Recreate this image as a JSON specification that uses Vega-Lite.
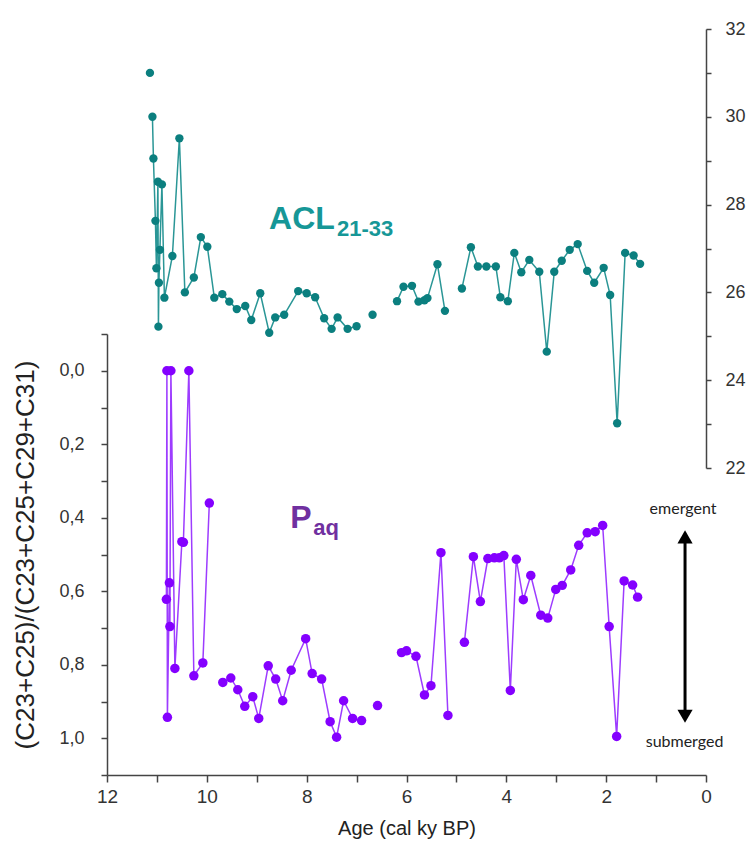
{
  "$schema": "https://vega.github.io/schema/vega-lite/v6.json",
  "width": 599,
  "height": 746,
  "autosize": "none",
  "padding": {"left": 107, "top": 29, "right": 41, "bottom": 77},
  "background": "white",
  "config": {
    "view": {"stroke": null},
    "axis": {"grid": false, "labelFont": "Liberation Sans", "titleFont": "Liberation Sans", "labelColor": "#333333", "titleColor": "#222222", "domainColor": "#444444", "tickColor": "#444444", "domainWidth": 1.5, "tickWidth": 1.5, "titleFontWeight": "normal"}
  },
  "datasets": {
    "acl": [
      {"age": 11.14, "acl": 31.0, "seg": 0},
      {"age": 11.09, "acl": 30.0, "seg": 1},
      {"age": 11.07, "acl": 29.05, "seg": 1},
      {"age": 11.03, "acl": 27.63, "seg": 1},
      {"age": 11.01, "acl": 26.55, "seg": 1},
      {"age": 10.98, "acl": 28.52, "seg": 1},
      {"age": 10.97, "acl": 25.22, "seg": 1},
      {"age": 10.96, "acl": 26.22, "seg": 1},
      {"age": 10.94, "acl": 26.97, "seg": 1},
      {"age": 10.9, "acl": 28.46, "seg": 1},
      {"age": 10.85, "acl": 25.88, "seg": 1},
      {"age": 10.69, "acl": 26.83, "seg": 1},
      {"age": 10.55, "acl": 29.51, "seg": 1},
      {"age": 10.44, "acl": 26.0, "seg": 1},
      {"age": 10.26, "acl": 26.34, "seg": 1},
      {"age": 10.12, "acl": 27.26, "seg": 1},
      {"age": 9.99, "acl": 27.04, "seg": 1},
      {"age": 9.85, "acl": 25.88, "seg": 1},
      {"age": 9.69, "acl": 25.96, "seg": 1},
      {"age": 9.55, "acl": 25.79, "seg": 1},
      {"age": 9.4, "acl": 25.62, "seg": 1},
      {"age": 9.23, "acl": 25.69, "seg": 1},
      {"age": 9.11, "acl": 25.37, "seg": 1},
      {"age": 8.93, "acl": 25.98, "seg": 1},
      {"age": 8.75, "acl": 25.08, "seg": 1},
      {"age": 8.63, "acl": 25.43, "seg": 1},
      {"age": 8.45, "acl": 25.49, "seg": 1},
      {"age": 8.17, "acl": 26.03, "seg": 1},
      {"age": 8.0, "acl": 25.98, "seg": 1},
      {"age": 7.83, "acl": 25.89, "seg": 1},
      {"age": 7.65, "acl": 25.41, "seg": 1},
      {"age": 7.5, "acl": 25.17, "seg": 1},
      {"age": 7.38, "acl": 25.43, "seg": 1},
      {"age": 7.18, "acl": 25.17, "seg": 1},
      {"age": 7.0, "acl": 25.23, "seg": 1},
      {"age": 6.68, "acl": 25.49, "seg": 2},
      {"age": 6.19, "acl": 25.8, "seg": 3},
      {"age": 6.06, "acl": 26.13, "seg": 3},
      {"age": 5.89, "acl": 26.15, "seg": 3},
      {"age": 5.76, "acl": 25.79, "seg": 3},
      {"age": 5.64, "acl": 25.82, "seg": 3},
      {"age": 5.58, "acl": 25.87, "seg": 3},
      {"age": 5.38, "acl": 26.64, "seg": 3},
      {"age": 5.23, "acl": 25.58, "seg": 3},
      {"age": 4.89, "acl": 26.09, "seg": 4},
      {"age": 4.71, "acl": 27.03, "seg": 4},
      {"age": 4.57, "acl": 26.59, "seg": 4},
      {"age": 4.4, "acl": 26.59, "seg": 4},
      {"age": 4.21, "acl": 26.59, "seg": 4},
      {"age": 4.12, "acl": 25.89, "seg": 4},
      {"age": 3.97, "acl": 25.8, "seg": 4},
      {"age": 3.84, "acl": 26.9, "seg": 4},
      {"age": 3.7, "acl": 26.46, "seg": 4},
      {"age": 3.54, "acl": 26.74, "seg": 4},
      {"age": 3.34, "acl": 26.47, "seg": 4},
      {"age": 3.19, "acl": 24.65, "seg": 4},
      {"age": 3.04, "acl": 26.47, "seg": 4},
      {"age": 2.89, "acl": 26.72, "seg": 4},
      {"age": 2.73, "acl": 26.97, "seg": 4},
      {"age": 2.57, "acl": 27.1, "seg": 4},
      {"age": 2.38, "acl": 26.49, "seg": 4},
      {"age": 2.24, "acl": 26.22, "seg": 4},
      {"age": 2.05, "acl": 26.56, "seg": 4},
      {"age": 1.92, "acl": 25.94, "seg": 4},
      {"age": 1.78, "acl": 23.02, "seg": 4},
      {"age": 1.62, "acl": 26.9, "seg": 4},
      {"age": 1.45, "acl": 26.84, "seg": 4},
      {"age": 1.32, "acl": 26.65, "seg": 4}
    ],
    "paq": [
      {"age": 10.81, "paq": 0.622, "seg": 0},
      {"age": 10.8, "paq": 0.0, "seg": 0},
      {"age": 10.79, "paq": 0.943, "seg": 0},
      {"age": 10.75, "paq": 0.577, "seg": 0},
      {"age": 10.74, "paq": 0.696, "seg": 0},
      {"age": 10.72, "paq": 0.0, "seg": 0},
      {"age": 10.64, "paq": 0.81, "seg": 0},
      {"age": 10.5, "paq": 0.465, "seg": 0},
      {"age": 10.47, "paq": 0.467, "seg": 0},
      {"age": 10.36, "paq": 0.0, "seg": 0},
      {"age": 10.26, "paq": 0.83, "seg": 0},
      {"age": 10.08, "paq": 0.795, "seg": 0},
      {"age": 9.95, "paq": 0.36, "seg": 0},
      {"age": 9.68, "paq": 0.848, "seg": 1},
      {"age": 9.52, "paq": 0.836, "seg": 1},
      {"age": 9.38, "paq": 0.868, "seg": 1},
      {"age": 9.24, "paq": 0.913, "seg": 1},
      {"age": 9.08, "paq": 0.887, "seg": 1},
      {"age": 8.96, "paq": 0.946, "seg": 1},
      {"age": 8.77, "paq": 0.803, "seg": 1},
      {"age": 8.62, "paq": 0.839, "seg": 1},
      {"age": 8.48, "paq": 0.898, "seg": 1},
      {"age": 8.31, "paq": 0.815, "seg": 1},
      {"age": 8.02, "paq": 0.729, "seg": 1},
      {"age": 7.89, "paq": 0.824, "seg": 1},
      {"age": 7.7, "paq": 0.839, "seg": 1},
      {"age": 7.53, "paq": 0.955, "seg": 1},
      {"age": 7.4, "paq": 0.997, "seg": 1},
      {"age": 7.26, "paq": 0.898, "seg": 1},
      {"age": 7.08, "paq": 0.946, "seg": 1},
      {"age": 6.9, "paq": 0.952, "seg": 1},
      {"age": 6.58, "paq": 0.911, "seg": 2},
      {"age": 6.1, "paq": 0.767, "seg": 3},
      {"age": 6.0, "paq": 0.762, "seg": 3},
      {"age": 5.81, "paq": 0.777, "seg": 3},
      {"age": 5.64, "paq": 0.882, "seg": 3},
      {"age": 5.51, "paq": 0.857, "seg": 3},
      {"age": 5.31, "paq": 0.495, "seg": 3},
      {"age": 5.17, "paq": 0.938, "seg": 3},
      {"age": 4.84, "paq": 0.739, "seg": 4},
      {"age": 4.66, "paq": 0.506, "seg": 4},
      {"age": 4.52, "paq": 0.628, "seg": 4},
      {"age": 4.37, "paq": 0.511, "seg": 4},
      {"age": 4.24, "paq": 0.509, "seg": 4},
      {"age": 4.14, "paq": 0.509, "seg": 4},
      {"age": 4.05, "paq": 0.503, "seg": 4},
      {"age": 3.92, "paq": 0.87, "seg": 4},
      {"age": 3.8, "paq": 0.513, "seg": 4},
      {"age": 3.66, "paq": 0.623, "seg": 4},
      {"age": 3.51, "paq": 0.557, "seg": 4},
      {"age": 3.31, "paq": 0.665, "seg": 4},
      {"age": 3.17, "paq": 0.673, "seg": 4},
      {"age": 3.01, "paq": 0.595, "seg": 4},
      {"age": 2.88, "paq": 0.584, "seg": 4},
      {"age": 2.71, "paq": 0.542, "seg": 4},
      {"age": 2.55, "paq": 0.475, "seg": 4},
      {"age": 2.38, "paq": 0.441, "seg": 4},
      {"age": 2.22, "paq": 0.438, "seg": 4},
      {"age": 2.07, "paq": 0.421, "seg": 4},
      {"age": 1.94, "paq": 0.696, "seg": 4},
      {"age": 1.79, "paq": 0.995, "seg": 4},
      {"age": 1.64, "paq": 0.572, "seg": 4},
      {"age": 1.47, "paq": 0.583, "seg": 4},
      {"age": 1.37, "paq": 0.616, "seg": 4}
    ]
  },
  "resolve": {"scale": {"y": "independent"}, "axis": {"x": "independent", "y": "independent"}},
  "layer": [
    {
      "data": {"name": "acl"},
      "mark": {"type": "line", "color": "#2a9696", "strokeWidth": 1.5},
      "encoding": {
        "x": {"field": "age", "type": "quantitative", "scale": {"domain": [0, 12], "reverse": true, "nice": false},
          "axis": {"orient": "bottom", "title": "Age (cal ky BP)", "values": [0, 1, 2, 3, 4, 5, 6, 7, 8, 9, 10, 11, 12], "labelExpr": "datum.value % 2 == 0 ? datum.label : ''", "tickSize": 7, "labelFontSize": 19, "titleFontSize": 20, "labelPadding": 5, "titlePadding": 12, "labelFlush": false, "labelOverlap": false}},
        "y": {"field": "acl", "type": "quantitative", "scale": {"domain": [22, 32], "range": [439, 0], "nice": false, "zero": false},
          "axis": {"orient": "right", "title": null, "values": [22, 23, 24, 25, 26, 27, 28, 29, 30, 31, 32], "labelExpr": "datum.value % 2 == 0 ? datum.label : ''", "tickSize": 5, "labelFontSize": 18, "labelPadding": 14, "labelOverlap": false}},
        "detail": {"field": "seg"}
      }
    },
    {
      "data": {"name": "acl"},
      "mark": {"type": "circle", "color": "#0b7f7f", "opacity": 1, "size": 70},
      "encoding": {
        "x": {"field": "age", "type": "quantitative", "scale": {"domain": [0, 12], "reverse": true, "nice": false}, "axis": null},
        "y": {"field": "acl", "type": "quantitative", "scale": {"domain": [22, 32], "range": [439, 0], "nice": false, "zero": false}, "axis": null}
      }
    },
    {
      "data": {"name": "paq"},
      "mark": {"type": "line", "color": "#9d3cff", "strokeWidth": 1.5},
      "encoding": {
        "x": {"field": "age", "type": "quantitative", "scale": {"domain": [0, 12], "reverse": true, "nice": false}, "axis": null},
        "y": {"field": "paq", "type": "quantitative", "scale": {"domain": [-0.1, 1.1], "range": [305, 746], "nice": false, "zero": false},
          "axis": {"orient": "left", "title": "(C23+C25)/(C23+C25+C29+C31)", "values": [-0.1, 0, 0.1, 0.2, 0.3, 0.4, 0.5, 0.6, 0.7, 0.8, 0.9, 1.0, 1.1], "labelExpr": "(abs(datum.value * 10) % 2 < 0.5) ? replace(format(datum.value, '.1f'), '.', ',') : ''", "tickSize": 6, "labelFontSize": 18, "labelPadding": 17, "titleFontSize": 26, "titlePadding": 20, "labelOverlap": false}},
        "detail": {"field": "seg"}
      }
    },
    {
      "data": {"name": "paq"},
      "mark": {"type": "circle", "color": "#8400ff", "opacity": 1, "size": 90},
      "encoding": {
        "x": {"field": "age", "type": "quantitative", "scale": {"domain": [0, 12], "reverse": true, "nice": false}, "axis": null},
        "y": {"field": "paq", "type": "quantitative", "scale": {"domain": [-0.1, 1.1], "range": [305, 746], "nice": false, "zero": false}, "axis": null}
      }
    },
    {
      "data": {"values": [{"age": 8.754, "acl": 27.44, "t": "ACL"}]},
      "mark": {"type": "text", "align": "left", "baseline": "alphabetic", "font": "Liberation Sans", "fontWeight": "bold", "fontSize": 32, "color": "#169797"},
      "encoding": {
        "x": {"field": "age", "type": "quantitative", "scale": {"domain": [0, 12], "reverse": true, "nice": false}, "axis": null},
        "y": {"field": "acl", "type": "quantitative", "scale": {"domain": [22, 32], "range": [439, 0], "nice": false, "zero": false}, "axis": null},
        "text": {"field": "t"}
      }
    },
    {
      "data": {"values": [{"age": 7.391, "acl": 27.285, "t": "21-33"}]},
      "mark": {"type": "text", "align": "left", "baseline": "alphabetic", "font": "Liberation Sans", "fontWeight": "bold", "fontSize": 22, "color": "#169797"},
      "encoding": {
        "x": {"field": "age", "type": "quantitative", "scale": {"domain": [0, 12], "reverse": true, "nice": false}, "axis": null},
        "y": {"field": "acl", "type": "quantitative", "scale": {"domain": [22, 32], "range": [439, 0], "nice": false, "zero": false}, "axis": null},
        "text": {"field": "t"}
      }
    },
    {
      "data": {"values": [{"age": 8.33, "paq": 0.429, "t": "P"}, {"age": 7.87, "paq": 0.446, "t": "aq"}]},
      "mark": {"type": "text", "align": "left", "baseline": "alphabetic", "font": "Liberation Sans", "fontWeight": "bold", "color": "#7030a0"},
      "encoding": {
        "x": {"field": "age", "type": "quantitative", "scale": {"domain": [0, 12], "reverse": true, "nice": false}, "axis": null},
        "y": {"field": "paq", "type": "quantitative", "scale": {"domain": [-0.1, 1.1], "range": [305, 746], "nice": false, "zero": false}, "axis": null},
        "text": {"field": "t"},
        "size": {"field": "t", "type": "nominal", "scale": {"domain": ["P", "aq"], "range": [32, 22]}, "legend": null}
      }
    },
    {
      "data": {"values": [{"age": 0.46, "paq": 0.389, "t": "emergent"}, {"age": 0.43, "paq": 1.023, "t": "submerged"}]},
      "mark": {"type": "text", "align": "center", "baseline": "alphabetic", "font": "Lato", "fontSize": 16, "color": "#222222"},
      "encoding": {
        "x": {"field": "age", "type": "quantitative", "scale": {"domain": [0, 12], "reverse": true, "nice": false}, "axis": null},
        "y": {"field": "paq", "type": "quantitative", "scale": {"domain": [-0.1, 1.1], "range": [305, 746], "nice": false, "zero": false}, "axis": null},
        "text": {"field": "t"}
      }
    },
    {
      "data": {"values": [{"age": 0.42, "paq": 0.46, "paq2": 0.93}]},
      "mark": {"type": "rule", "color": "#000000", "strokeWidth": 3},
      "encoding": {
        "x": {"field": "age", "type": "quantitative", "scale": {"domain": [0, 12], "reverse": true, "nice": false}, "axis": null},
        "y": {"field": "paq", "type": "quantitative", "scale": {"domain": [-0.1, 1.1], "range": [305, 746], "nice": false, "zero": false}, "axis": null},
        "y2": {"field": "paq2"}
      }
    },
    {
      "data": {"values": [{"age": 0.42, "paq": 0.452, "s": "triangle-up"}, {"age": 0.42, "paq": 0.94, "s": "triangle-down"}]},
      "mark": {"type": "point", "filled": true, "color": "#000000", "opacity": 1, "size": 230},
      "encoding": {
        "x": {"field": "age", "type": "quantitative", "scale": {"domain": [0, 12], "reverse": true, "nice": false}, "axis": null},
        "y": {"field": "paq", "type": "quantitative", "scale": {"domain": [-0.1, 1.1], "range": [305, 746], "nice": false, "zero": false}, "axis": null},
        "shape": {"field": "s", "type": "nominal", "scale": {"domain": ["triangle-up", "triangle-down"], "range": ["triangle-up", "triangle-down"]}, "legend": null}
      }
    }
  ]
}
